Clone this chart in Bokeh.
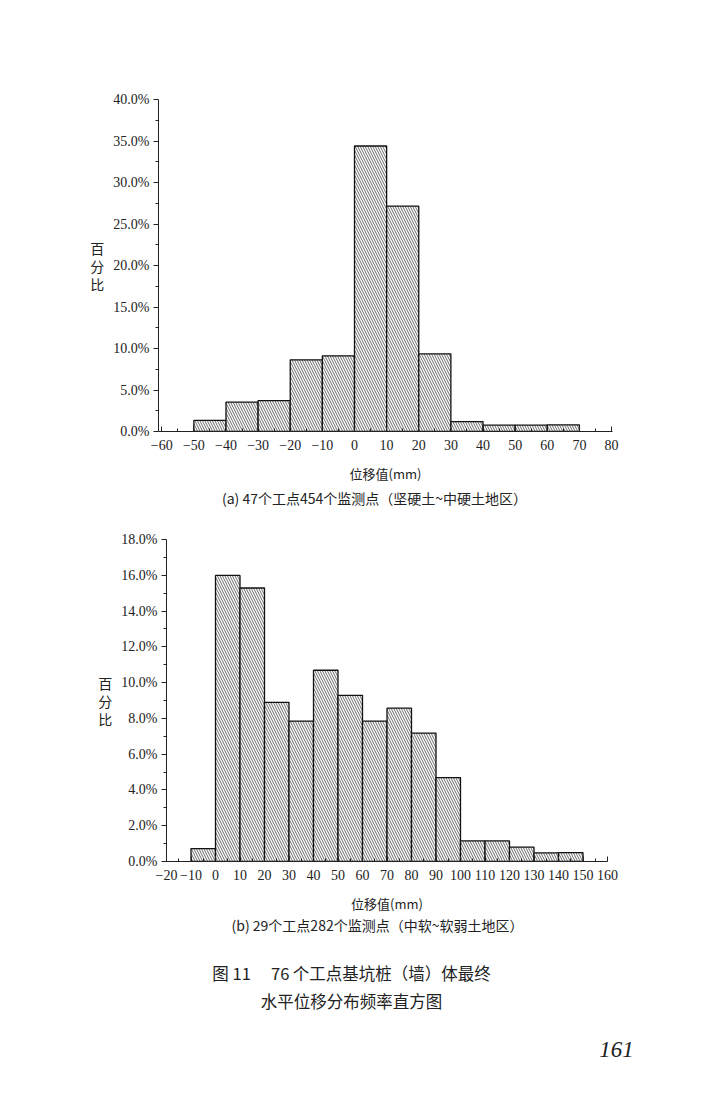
from bokeh.plotting import figure
from bokeh.models import Range1d, FixedTicker, PrintfTickFormatter
from bokeh.core.properties import value
from bokeh.embed import file_html
from bokeh.resources import INLINE

# ---------------- data ----------------
a_left = [-50, -40, -30, -20, -10, 0, 10, 20, 30, 40, 50, 60]
a_right = [-40, -30, -20, -10, 0, 10, 20, 30, 40, 50, 60, 70]
a_pct = [1.33, 3.53, 3.73, 8.63, 9.12, 34.4, 27.15, 9.36, 1.2, 0.76, 0.76, 0.8]

b_left = [-10, 0, 10, 20, 30, 40, 50, 60, 70, 80, 90, 100, 110, 120, 130, 140]
b_right = [0, 10, 20, 30, 40, 50, 60, 70, 80, 90, 100, 110, 120, 130, 140, 150]
b_pct = [0.72, 15.99, 15.29, 8.9, 7.85, 10.69, 9.29, 7.85, 8.57, 7.18, 4.69, 1.15, 1.15, 0.8, 0.48, 0.5]

a_xticks = list(range(-60, 81, 10))
a_yticks = [0, 5, 10, 15, 20, 25, 30, 35, 40]
b_xticks = list(range(-20, 161, 10))
b_yticks = [0, 2, 4, 6, 8, 10, 12, 14, 16, 18]

xlabel = "位移值(mm)"
ylabel = "百\n分\n比"
cap_a = "(a) 47个工点454个监测点（坚硬土~中硬土地区）"
cap_b = "(b) 29个工点282个监测点（中软~软弱土地区）"
fig_cap1 = "图\u00a011\u3000\u00a076\u2009个工点基坑桩（墙）体最终"
fig_cap2 = "水平位移分布频率直方图"
page_no = "161"

SERIF = "Liberation Serif"
CJK = "Noto Sans CJK SC"
INK = "#222222"
W = 720


def lab(x):
    return str(x).replace("-", "\u2212")


def make_chart(height, frame, xr, yr, xticks, yticks, xminor, yminor):
    fl, ft, fr, fb = frame
    p = figure(width=W, height=height, output_backend="svg", toolbar_location=None,
               x_range=Range1d(*xr), y_range=Range1d(*yr),
               min_border_left=fl, min_border_top=ft,
               min_border_right=W - fr, min_border_bottom=height - fb)
    p.outline_line_color = None
    p.xgrid.visible = False
    p.ygrid.visible = False

    xa = p.xaxis[0]
    xa.ticker = FixedTicker(ticks=xticks, minor_ticks=xminor)
    xa.major_label_overrides = {t: lab(t) for t in xticks}
    xa.major_tick_in = 5
    xa.major_tick_out = 0
    xa.minor_tick_in = 3
    xa.minor_tick_out = 0
    xa.major_label_standoff = 8
    xa.major_label_text_font = SERIF
    xa.major_label_text_font_size = "14px"
    xa.major_label_text_color = INK
    xa.axis_line_color = INK
    xa.major_tick_line_color = INK
    xa.minor_tick_line_color = INK
    xa.axis_label = xlabel
    xa.axis_label_text_font = CJK
    xa.axis_label_text_font_style = "normal"
    xa.axis_label_text_font_size = "13px"
    xa.axis_label_text_color = INK
    xa.axis_label_standoff = 11

    ya = p.yaxis[0]
    ya.ticker = FixedTicker(ticks=yticks, minor_ticks=yminor)
    ya.formatter = PrintfTickFormatter(format="%.1f%%")
    ya.major_tick_in = 0
    ya.major_tick_out = 5
    ya.minor_tick_in = 0
    ya.minor_tick_out = 3
    ya.major_label_standoff = 4
    ya.major_label_text_font = SERIF
    ya.major_label_text_font_size = "14px"
    ya.major_label_text_color = INK
    ya.axis_line_color = INK
    ya.major_tick_line_color = INK
    ya.minor_tick_line_color = INK
    ya.axis_label = ylabel
    ya.axis_label_orientation = "horizontal"
    ya.axis_label_text_font = CJK
    ya.axis_label_text_font_style = "normal"
    ya.axis_label_text_font_size = "14px"
    ya.axis_label_text_line_height = 0.9
    ya.axis_label_text_color = INK
    ya.axis_label_standoff = 6
    return p


def make_text(height, items):
    # items: (x_px, y_px_from_top, text, font, size, style)
    p = figure(width=W, height=height, output_backend="svg", toolbar_location=None,
               x_range=Range1d(0, W), y_range=Range1d(height, 0),
               min_border=0, x_axis_location=None, y_axis_location=None)
    p.outline_line_color = None
    p.xgrid.visible = False
    p.ygrid.visible = False
    for (x, y, t, f, s, st) in items:
        p.text(x=[x], y=[y], text=[t], text_font=value(f), text_font_size=s,
               text_font_style=st, text_align="center", text_baseline="middle",
               text_color=INK)
    return p


# ---------------- chart (a) ----------------
H1 = 487
pa = make_chart(H1, (158, 99, 612, 431), (-61, 80.3), (0, 40), a_xticks, a_yticks,
                [v + 5 for v in a_xticks[:-1]], [v + 2.5 for v in a_yticks[:-1]])
pa.quad(left=a_left, right=a_right, bottom=0, top=a_pct,
        fill_color="white", line_color="#111111", line_width=1.3,
        hatch_pattern="\\", hatch_scale=5, hatch_weight=0.7, hatch_color="#2a2a2a")

ta = make_text(520 - H1, [(374, 497 - H1, cap_a, CJK, "14px", "normal")])

# ---------------- chart (b) ----------------
H2 = 395
pb = make_chart(H2, (166, 19, 607, 341), (-20, 160), (0, 18), b_xticks, b_yticks,
                [v + 5 for v in b_xticks[:-1]], [v + 1 for v in b_yticks[:-1]])
pb.quad(left=b_left, right=b_right, bottom=0, top=b_pct,
        fill_color="white", line_color="#111111", line_width=1.3,
        hatch_pattern="\\", hatch_scale=5, hatch_weight=0.7, hatch_color="#2a2a2a")

top_b = 520 + H2
tb = make_text(1105 - top_b, [
    (377, 924 - top_b, cap_b, CJK, "14px", "normal"),
    (351, 972 - top_b, fig_cap1, CJK, "16.5px", "normal"),
    (351, 1000 - top_b, fig_cap2, CJK, "16.5px", "normal"),
    (616, 1049 - top_b, page_no, SERIF, "23px", "italic"),
])

open("out.html", "w").write(file_html([pa, ta, pb, tb], INLINE))
